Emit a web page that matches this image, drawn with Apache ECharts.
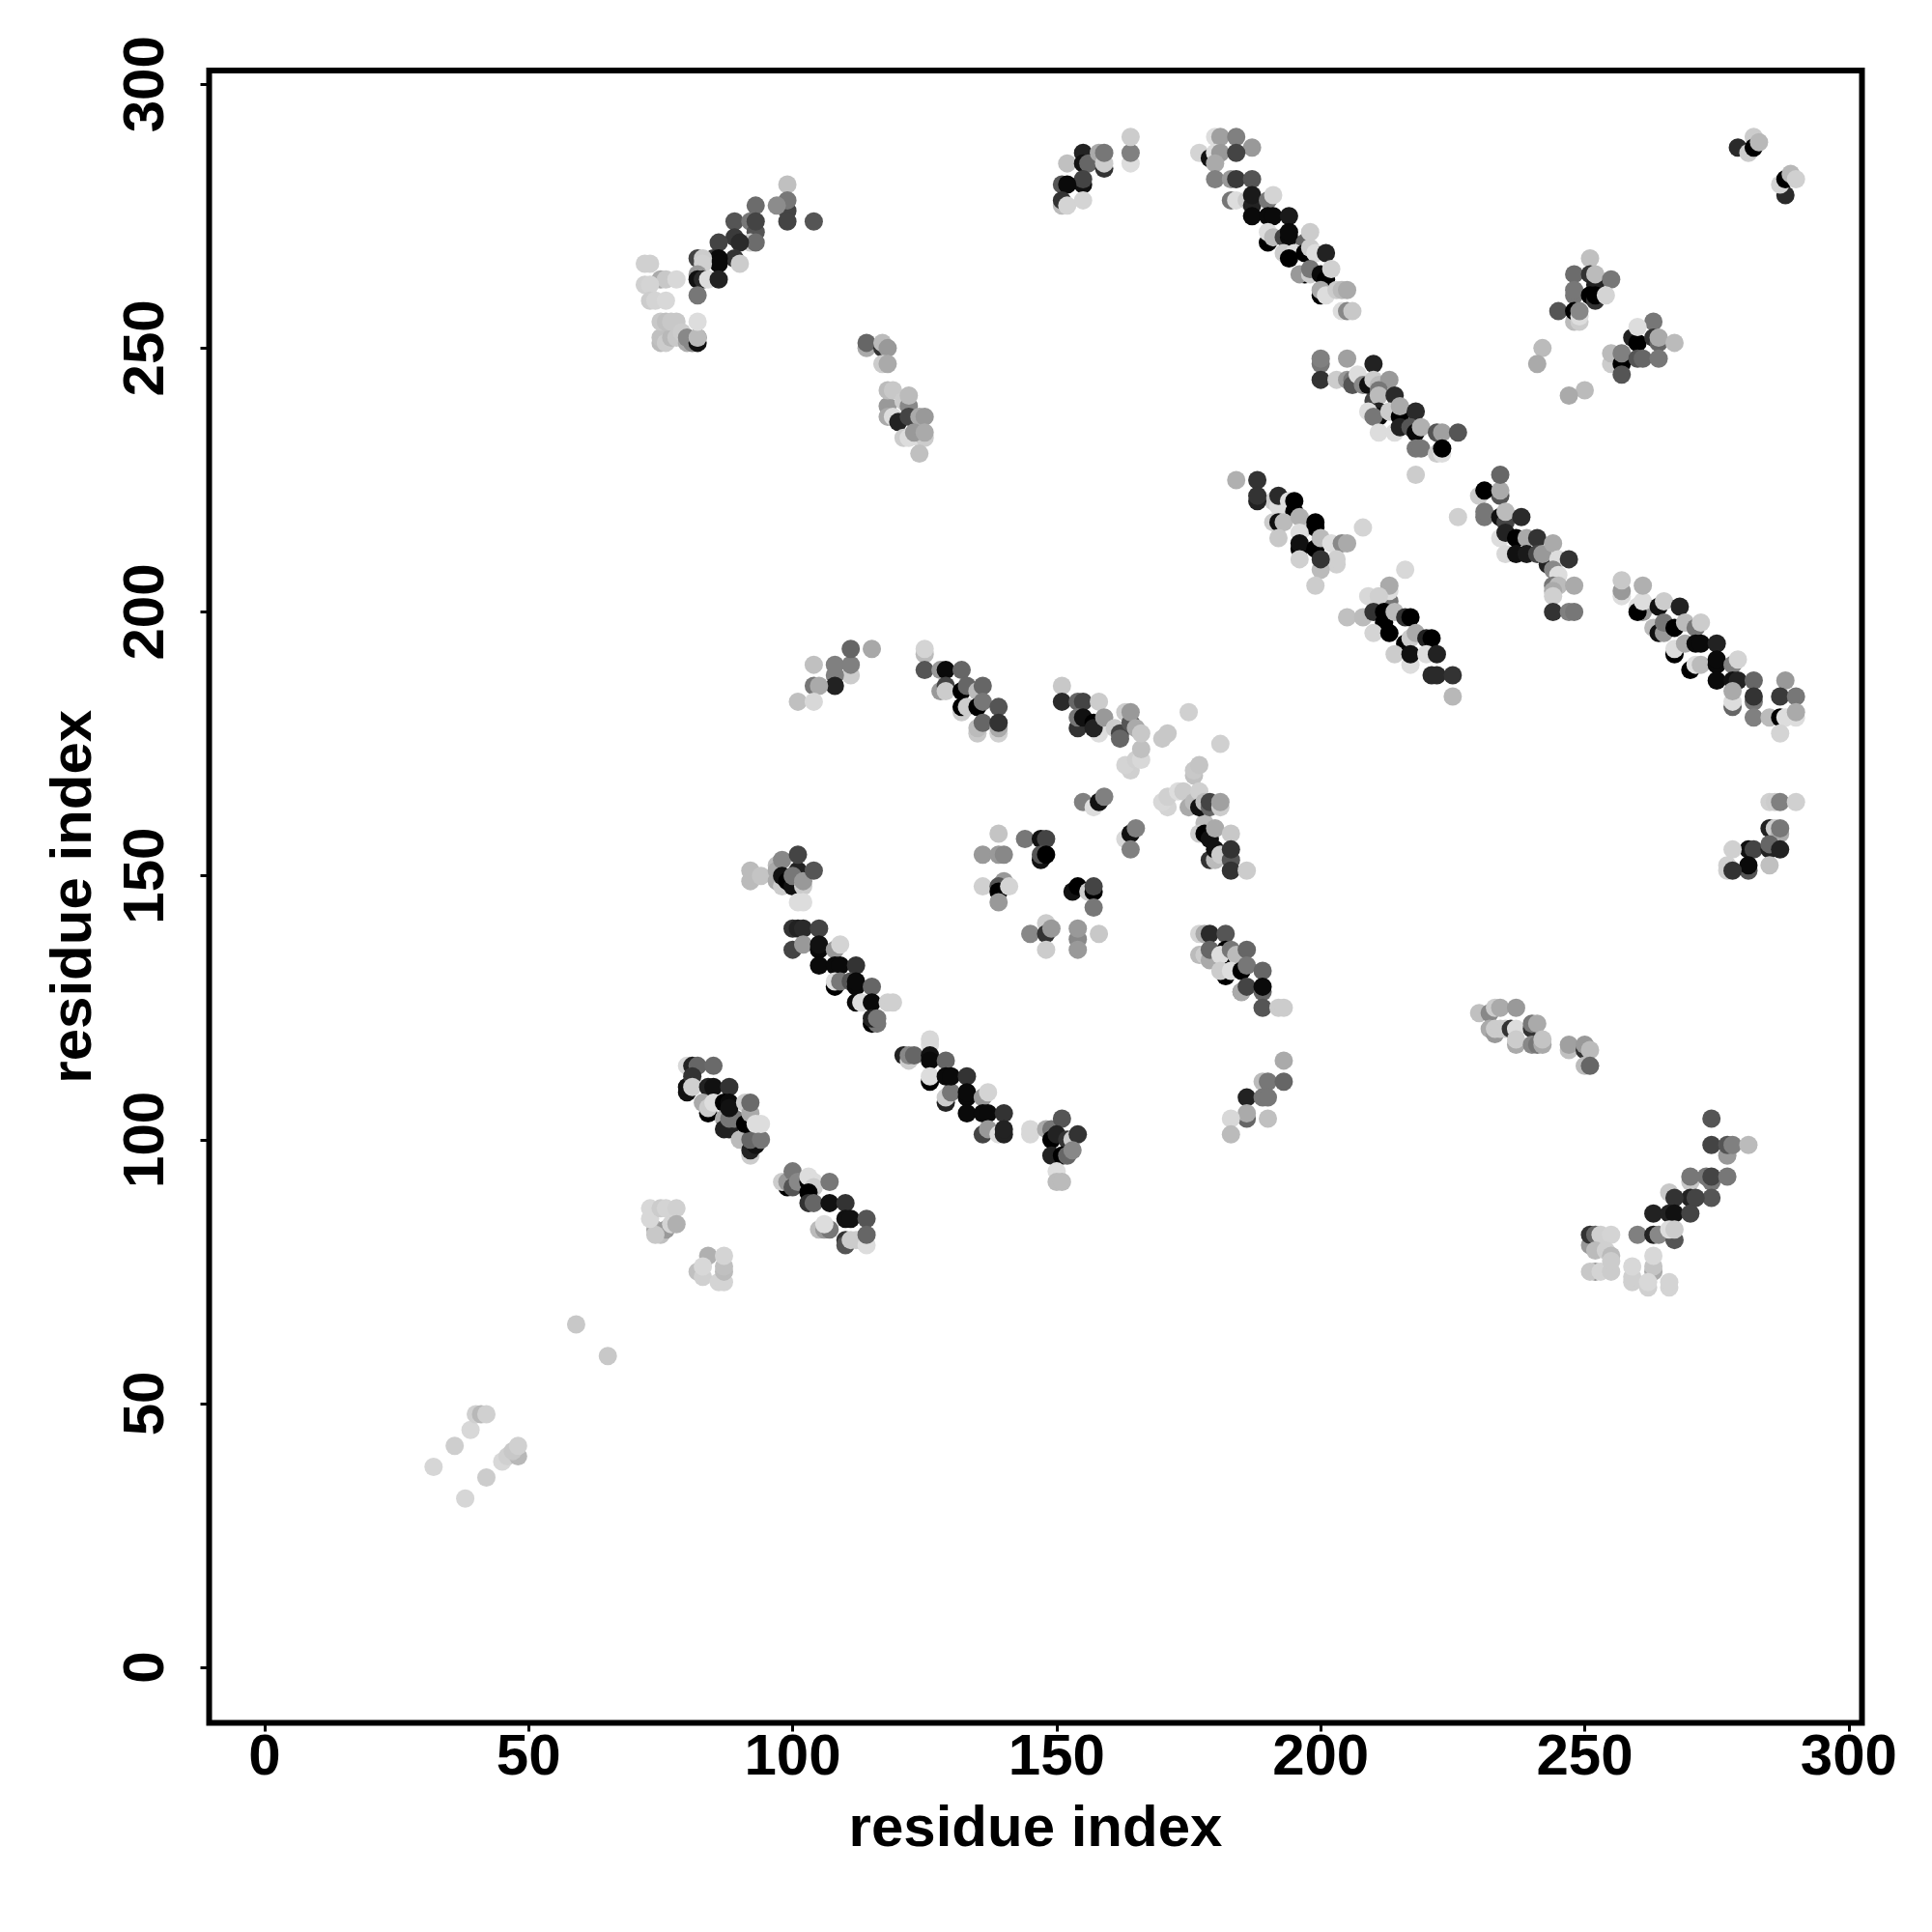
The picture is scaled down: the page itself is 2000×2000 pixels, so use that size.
<!DOCTYPE html>
<html><head><meta charset="utf-8">
<style>html,body{margin:0;padding:0;background:#fff}#c{width:2000px;height:2000px}</style>
<script src="https://cdn.jsdelivr.net/npm/echarts@6/dist/echarts.min.js"></script>
</head><body><div id="c"></div>
<script>
const tickValues=[0,50,100,150,200,250,300];
const tickLabels=['0','50','100','150','200','250','300'];
const axisTitle='residue index';
// each entry: residue i, residue j, grey level (0 = black, 255 = white), in paint order
const nTerminal=[[59,65,200],[65,59,200],[32,38,214],[36,42,206],[39,45,216],[40,48,208],[41,48,184],[42,48,208],[38,32,214],[42,36,204],[45,39,216],[46,40,208],[48,40,184],[47,41,200],[48,42,208]];
const lowA=[[74,83,170],[75,82,192],[76,83,153],[74,82,200],[73,85,216],[73,87,216],[75,87,204],[76,87,212],[78,87,208],[77,84,212],[78,84,176]];
const lowB=[[82,75,192],[83,74,208],[84,78,176],[83,76,216],[86,73,212],[87,73,212],[87,75,187],[87,76,192],[87,78,212]];
const strand1=[[80,114,216],[81,114,34],[82,114,102],[85,114,106],[80,109,17],[80,110,17],[81,112,51],[81,110,208],[84,110,34],[85,110,17],[88,110,51],[84,105,0],[83,107,170],[84,106,204],[85,107,221],[87,107,0],[88,107,10],[87,104,170],[87,102,34],[88,102,34],[88,104,119],[89,104,119],[88,106,17],[91,107,204],[91,100,187],[90,100,187],[92,97,204],[92,98,34],[93,99,17],[92,100,102],[94,100,119],[91,103,0],[92,105,170],[93,103,221],[94,103,221],[92,107,106]];
const strand2=[[99,91,0],[98,92,204],[99,92,153],[100,91,85],[100,94,119],[101,92,136],[103,92,0],[103,93,221],[104,92,221],[104,91,204],[107,92,119],[103,90,0],[103,88,51],[104,88,102],[105,83,187],[106,83,153],[107,83,119],[107,88,17],[110,88,51],[106,84,221],[110,81,51],[110,85,17],[111,85,17],[114,85,85],[113,81,0],[110,80,85],[111,81,204],[112,81,204],[114,80,221],[114,82,102]];
const loopUp=[[99,281,192],[99,276,68],[99,278,119],[97,277,140],[93,277,108],[99,274,68],[104,274,85],[89,274,85],[92,274,119],[93,272,85],[93,274,68],[92,270,204],[93,270,108],[89,271,58],[90,270,42],[86,270,68],[89,267,51],[85,267,51],[86,267,10],[86,266,10],[90,266,204],[82,267,68],[83,267,204],[83,266,208],[82,264,153],[82,263,17],[83,263,42],[84,263,221],[86,263,34],[82,260,119]];
const loopUpLight=[[72,266,208],[73,266,208],[75,263,170],[76,263,200],[78,263,216],[72,262,208],[73,262,212],[73,259,204],[74,259,212],[76,259,216],[75,251,187],[75,252,192],[76,251,204],[77,252,184],[78,252,200],[75,255,200],[76,255,192],[77,255,200],[78,255,200],[79,253,204],[80,251,170],[81,251,136],[80,252,136],[82,251,17],[82,252,102],[82,252,187],[82,255,221]];
const helixA=[[114,250,170],[114,251,102],[117,250,51],[117,251,187],[118,250,153],[117,247,204],[118,247,170],[118,239,153],[118,242,187],[119,242,200],[118,237,170],[119,237,221],[120,236,34],[121,240,204],[122,239,136],[122,241,187],[122,237,68],[124,237,170],[125,237,153],[121,233,204],[122,233,221],[124,233,221],[125,233,204],[123,234,153],[125,234,170],[124,230,192]];
const topMid=[[152,285,192],[155,287,34],[155,285,17],[156,285,102],[158,287,170],[159,284,51],[159,285,204],[159,287,119],[164,285,221],[164,287,128],[164,290,204],[155,281,17],[155,282,68],[151,281,85],[152,281,10],[151,277,187],[151,278,51],[152,277,212],[155,278,212]];
const topLong=[[180,290,221],[181,290,160],[184,290,128],[187,288,153],[177,287,212],[179,286,17],[180,287,221],[181,287,153],[184,287,68],[180,285,170],[180,282,128],[183,282,153],[184,282,58],[187,282,85],[183,278,119],[184,278,221],[186,278,204],[187,277,34],[187,279,26],[190,278,119],[191,279,212],[187,275,10],[190,275,10],[191,275,10],[194,275,26],[190,270,0],[190,272,221],[191,271,187],[193,271,68],[194,271,10],[194,272,10],[197,270,102],[198,272,204],[193,268,204],[195,268,221],[194,267,0],[197,268,0],[198,269,204],[199,268,221],[201,268,34],[197,264,0],[196,264,153],[198,264,204],[198,265,119],[200,264,10],[201,263,0],[202,265,208],[200,260,0],[200,261,170],[201,260,221],[203,261,204],[204,261,187],[205,261,170],[204,257,221],[205,257,136],[206,257,200]];
const midLong=[[200,247,119],[200,248,128],[200,244,51],[205,248,160],[203,244,204],[205,244,153],[206,244,119],[206,243,85],[207,245,221],[208,243,136],[209,243,17],[210,247,34],[210,244,204],[211,243,187],[213,244,153],[210,240,68],[211,242,119],[211,241,187],[211,238,34],[211,237,10],[209,238,221],[210,237,119],[214,241,42],[214,238,17],[213,238,204],[215,237,0],[215,239,170],[218,238,42],[211,234,221],[214,234,221],[215,235,34],[217,235,85],[218,234,10],[219,235,176],[222,234,85],[223,234,160],[226,234,85],[218,231,119],[219,231,119],[222,230,204],[223,230,221],[223,231,0],[218,226,204],[184,225,176],[188,225,51]];
const topRight=[[279,288,42],[281,287,204],[282,290,204],[282,288,0],[283,289,184],[288,279,42],[287,281,212],[288,282,0],[289,283,184],[290,282,208]];
const blobA=[[251,267,192],[248,264,108],[251,264,51],[252,262,34],[252,264,187],[255,263,119],[248,260,119],[248,261,119],[251,260,0],[252,259,51],[252,260,0],[254,260,212],[245,257,85],[248,255,187],[249,255,204],[248,257,0],[249,256,221],[249,257,136],[242,250,187],[241,247,170],[250,242,187],[247,241,170]];
const blobB=[[263,255,119],[259,252,34],[260,251,0],[260,254,221],[263,252,51],[264,251,102],[264,252,170],[267,251,187],[255,247,204],[255,249,187],[257,247,0],[257,249,128],[260,248,85],[261,248,102],[264,248,119],[257,245,85]];
const strandC=[[191,221,204],[188,221,34],[188,222,51],[192,220,221],[192,222,42],[194,221,221],[195,219,0],[195,221,0],[191,217,204],[192,217,17],[193,217,187],[197,216,204],[196,218,176],[199,216,0],[199,217,0],[196,215,221],[196,212,0],[196,213,17],[192,214,200],[199,212,0],[200,214,187],[202,213,221],[204,213,136],[205,213,170],[208,216,212],[196,210,208],[203,209,208],[203,210,208],[200,208,187],[200,210,51],[199,205,204]];
const strandD=[[216,208,216],[213,202,119],[213,204,221],[213,205,170],[209,203,216],[211,203,208],[205,199,192],[208,199,187],[210,200,51],[212,200,0],[212,198,0],[214,200,187],[216,199,51],[217,199,0],[210,196,212],[213,196,0],[216,194,0],[217,195,204],[218,196,170],[220,195,34],[221,195,0],[214,192,204],[217,190,221],[217,192,17],[220,192,221],[222,192,34],[221,188,42],[222,188,42],[225,188,51],[225,184,184]];
const strandE=[[234,222,85],[230,222,204],[231,223,0],[234,223,170],[234,226,102],[226,218,208],[231,218,119],[231,219,119],[234,218,17],[235,217,68],[235,219,187],[238,218,42],[234,214,221],[235,215,34],[237,214,0],[239,214,170],[241,214,51],[235,211,216],[237,211,17],[239,211,26],[241,211,68],[243,209,34],[242,211,153],[244,213,170],[245,210,221],[247,210,51],[244,208,136],[245,207,221],[244,205,119],[245,205,187],[248,205,170],[244,204,170],[244,203,208],[244,200,51],[247,200,128],[248,200,119]];
const strandF=[[257,203,221],[257,204,153],[257,206,200],[260,201,221],[261,200,153],[260,200,0],[261,202,221],[261,205,176],[264,201,17],[265,202,204],[268,201,34],[263,197,187],[264,196,17],[265,196,153],[265,198,119],[267,197,0],[269,198,187],[271,197,119],[272,198,204],[267,192,0],[267,193,221],[269,194,170],[271,194,10],[272,194,10],[275,194,34],[270,189,0],[271,190,221],[272,190,187],[275,190,10],[275,191,10],[278,190,128],[279,191,212],[275,187,10],[278,187,17],[279,187,34],[282,187,102],[278,182,102],[278,183,221],[278,185,170],[282,183,119],[282,184,51],[282,180,128],[288,187,153],[287,184,58],[290,184,119],[285,180,187],[287,180,0],[288,180,221],[290,180,221],[290,181,170],[287,177,212]];
const midA=[[111,188,204],[111,190,128],[111,193,102],[115,193,168],[104,190,192],[108,188,128],[108,190,128],[108,186,34],[104,186,119],[105,186,170],[101,183,192],[104,183,216]];
const midB=[[125,192,187],[125,193,212],[125,189,85],[128,189,153],[129,189,10],[132,189,102],[128,185,153],[129,186,68],[129,185,204],[132,185,0],[133,186,102],[135,185,187],[136,186,102],[132,181,204],[132,182,0],[133,182,204],[135,182,0],[136,183,119],[139,182,85],[135,177,200],[135,178,187],[136,179,102],[139,177,208],[139,178,170],[139,179,51]];
const midC=[[151,186,200],[151,183,42],[154,183,102],[155,183,68],[158,183,204],[154,178,51],[154,180,119],[155,180,17],[158,177,221],[157,179,0],[157,178,34],[159,180,153],[161,178,204],[162,177,68],[162,176,102],[163,181,204],[164,179,85],[164,181,153],[165,178,170],[164,170,208],[163,171,212],[165,172,208],[166,172,216],[166,174,192],[166,177,200],[170,176,200],[171,177,200],[175,181,208],[181,175,208],[176,169,192],[176,170,200],[177,171,196]];
const midD=[[171,163,212],[170,164,216],[171,165,208],[173,166,221],[174,166,204],[175,163,170],[176,164,187],[177,166,208],[178,160,187],[177,163,17],[178,164,187],[179,163,102],[179,164,68],[181,163,204],[181,164,160],[177,158,204],[178,158,0],[179,157,17],[180,159,170],[183,158,200],[179,153,51],[180,153,187],[180,155,17],[181,154,204],[183,153,85],[183,155,51],[183,151,51],[186,151,204]];
const midSmall=[[155,164,128],[157,163,221],[158,164,17],[159,165,128],[163,157,216],[164,158,17],[165,159,128],[164,155,128],[139,158,196],[144,157,119],[147,157,17],[148,157,68],[147,153,17],[147,154,85],[148,154,0],[136,154,153],[139,154,153],[140,154,136],[136,148,208],[140,149,153],[139,148,85],[139,147,0],[141,148,212],[139,145,153],[153,147,17],[154,148,0],[156,147,204],[157,147,0],[157,148,68],[157,144,119],[145,139,136],[148,141,204],[148,139,51],[149,140,153],[148,136,204],[154,138,136],[154,140,153],[154,136,153],[158,139,200]];
const clusterG=[[92,149,187],[92,151,187],[94,150,196],[97,152,187],[97,151,170],[98,153,136],[97,149,170],[98,148,204],[98,150,17],[99,149,0],[100,148,17],[101,151,34],[100,150,119],[102,148,204],[102,149,153],[101,154,68],[104,151,85],[101,145,221],[102,145,221]];
const strandH=[[100,140,51],[101,140,34],[102,140,42],[105,140,68],[100,136,68],[102,137,153],[105,136,10],[105,137,17],[108,136,153],[109,137,212],[105,133,10],[108,133,10],[109,133,10],[112,133,51],[108,129,0],[108,130,221],[109,130,119],[111,130,85],[112,129,10],[112,130,10],[115,129,102],[112,126,10],[113,126,221],[115,126,10],[118,126,208],[119,126,208],[115,122,0],[116,122,119],[115,123,34],[116,123,119]];
const strandI=[[126,118,221],[126,119,216],[121,116,34],[122,115,204],[122,116,136],[123,116,102],[126,116,17],[126,115,10],[129,115,102],[126,111,0],[126,112,221],[129,107,34],[129,108,204],[130,109,119],[129,112,10],[130,112,10],[133,112,51],[133,108,10],[133,109,10],[136,108,153],[137,109,212],[133,105,10],[136,105,10],[137,105,10],[140,105,51],[136,101,68],[137,102,153],[139,101,221],[140,101,34],[140,102,34]];
const clusterJ=[[145,101,216],[145,102,216],[148,102,170],[149,102,119],[151,104,85],[149,100,0],[150,101,34],[152,100,51],[153,100,204],[154,101,51],[149,97,34],[151,97,0],[152,97,102],[153,98,136],[150,94,221],[150,92,187],[151,92,187]];
const strandK=[[177,139,212],[178,139,170],[179,139,42],[182,139,85],[177,135,187],[178,135,204],[179,134,170],[179,136,102],[182,135,0],[182,136,0],[181,135,221],[183,136,119],[184,135,187],[186,136,102],[182,131,0],[181,132,204],[183,132,221],[185,132,0],[186,133,119],[189,132,102],[185,128,119],[185,128,170],[186,129,68],[189,128,102],[189,129,10],[189,125,85],[192,125,204],[193,125,204]];
const clusterL=[[193,115,170],[189,111,187],[190,111,119],[193,111,102],[186,108,34],[189,108,119],[190,108,119],[186,104,102],[186,105,170],[183,104,216],[190,104,192],[183,101,187]];
const clusterM=[[230,124,192],[232,124,136],[233,125,204],[234,125,170],[237,125,153],[232,121,170],[233,120,153],[233,121,204],[234,121,204],[235,121,204],[236,121,51],[237,121,221],[237,118,170],[237,119,204],[240,121,51],[240,122,119],[241,122,170],[240,118,136],[241,118,119],[242,118,170],[242,119,196],[247,117,192],[247,118,160],[250,117,51],[250,118,153],[251,117,187],[250,114,187],[251,114,102]];
const clusterN=[[285,164,208],[286,164,204],[287,164,128],[290,164,208],[285,159,34],[286,159,204],[287,158,170],[287,159,119],[281,155,17],[282,155,68],[285,155,34],[285,156,102],[287,155,34],[278,155,208],[285,152,192],[281,151,85],[281,152,10],[277,151,208],[277,152,208],[278,151,51]];
const clusterO=[[274,104,85],[274,99,68],[277,97,153],[277,99,85],[278,99,128],[281,99,187],[270,92,200],[270,93,119],[273,93,119],[274,92,119],[274,93,68],[277,93,119],[274,89,85],[270,89,34],[271,89,68],[266,90,200],[267,89,51],[263,86,34],[266,86,34],[267,86,17],[270,86,68],[260,82,128],[263,82,34],[264,82,136],[267,81,85],[266,83,221],[267,83,204]];
const clusterP=[[251,80,153],[251,82,51],[252,82,102],[253,82,208],[255,82,212],[252,79,187],[254,79,208],[255,78,187],[252,75,153],[251,75,200],[253,75,212],[255,75,204],[255,77,204],[259,73,208],[259,74,208],[259,76,216],[263,75,170],[263,76,196],[263,78,216],[262,72,208],[262,73,216],[266,72,212],[266,73,212]];

const points=[].concat(nTerminal,lowA,lowB,strand1,strand2,loopUp,loopUpLight,helixA,topMid,topLong,midLong,topRight,blobA,blobB,strandC,strandD,strandE,strandF,midA,midB,midC,midD,midSmall,clusterG,strandH,strandI,clusterJ,strandK,clusterL,clusterM,clusterN,clusterO,clusterP);

const font={fontFamily:'Liberation Sans',fontWeight:'bold',color:'#000'};
const mkAxis=(extra)=>Object.assign({
  type:'value',splitLine:{show:false},axisLine:{show:false,onZero:false},
  axisTick:{show:true,length:9,inside:false,lineStyle:{color:'#000',width:3},customValues:tickValues},
  nameLocation:'middle',name:axisTitle,
  nameTextStyle:Object.assign({fontSize:60},font)
},extra);
const chart=echarts.init(document.getElementById('c'),null,{renderer:'canvas'});
chart.setOption({
  animation:false,backgroundColor:'#fff',
  grid:{left:216.5,right:2000-1927.5,top:73,bottom:2000-1783.5,show:true,borderColor:'#000',borderWidth:6,backgroundColor:'transparent'},
  xAxis:mkAxis({min:-10.5,max:302.5,nameGap:81,
    axisLabel:Object.assign({show:true,fontSize:60,margin:7,customValues:tickValues,formatter:v=>tickLabels[tickValues.indexOf(v)]},font)}),
  yAxis:mkAxis({min:-10.5,max:302.6,nameGap:109,
    axisLabel:Object.assign({show:true,fontSize:60,margin:34,rotate:90,customValues:tickValues,formatter:v=>tickLabels[tickValues.indexOf(v)]},font)}),
  series:[{type:'scatter',symbol:'circle',symbolSize:19,data:points,silent:true,clip:true,
    itemStyle:{opacity:1,color:p=>{const g=p.data[2];return 'rgb('+g+','+g+','+g+')';}}}]
});
</script></body></html>
